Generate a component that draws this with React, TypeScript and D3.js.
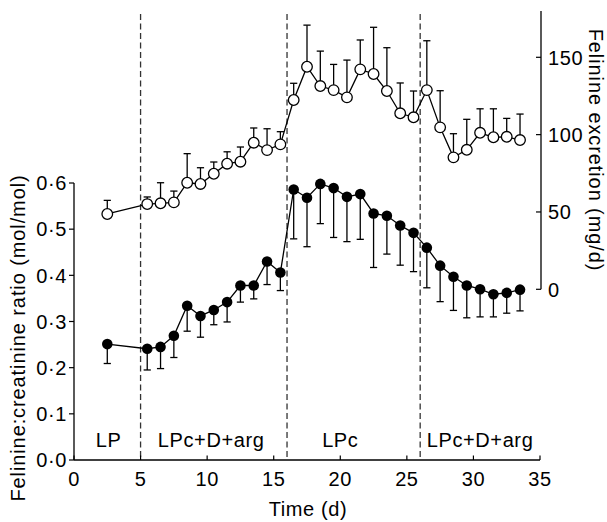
import * as d3 from "d3";

// days on which samples were taken
const days = [
  2.5, 5.5, 6.5, 7.5, 8.5, 9.5, 10.5, 11.5, 12.5, 13.5, 14.5, 15.5, 16.5, 17.5, 18.5,
  19.5, 20.5, 21.5, 22.5, 23.5, 24.5, 25.5, 26.5, 27.5, 28.5, 29.5, 30.5, 31.5, 32.5, 33.5,
];

// felinine excretion (mg/d), open circles, right axis
const excretion = [
  48.7, 55.1, 55.6, 56.2, 68.9, 68.1, 74.7, 81.2, 82.5, 94.8, 90.0, 93.7, 122.4, 143.9, 131.4,
  128.8, 124.1, 142.2, 139.2, 128.2, 113.8, 111.2, 128.8, 104.7, 85.3, 90.2, 101.2, 98.3, 98.6, 96.5,
];
const excretionUpper = [
  57.5, 59.7, 68.9, 63.5, 87.7, 78.6, 82.3, 88.9, 92.0, 104.3, 103.8, 101.9, 133.2, 170.8, 154.0,
  145.4, 148.2, 161.2, 169.4, 156.2, 133.4, 128.2, 160.7, 128.4, 100.6, 109.9, 116.7, 116.7, 110.5, 113.3,
];

// felinine:creatinine ratio (mol/mol), filled circles, left axis
const ratio = [
  0.251, 0.241, 0.245, 0.269, 0.334, 0.312, 0.325, 0.342, 0.378, 0.378, 0.43, 0.406, 0.586, 0.568, 0.598,
  0.589, 0.57, 0.576, 0.534, 0.529, 0.508, 0.492, 0.46, 0.421, 0.397, 0.378, 0.37, 0.359, 0.362, 0.369,
];
const ratioLower = [
  0.209, 0.195, 0.198, 0.222, 0.279, 0.266, 0.293, 0.299, 0.342, 0.349, 0.38, 0.367, 0.479, 0.462, 0.512,
  0.482, 0.473, 0.478, 0.417, 0.446, 0.422, 0.408, 0.373, 0.343, 0.324, 0.308, 0.31, 0.31, 0.318, 0.323,
];

// diet changes and phase labels
const dietChanges = [5, 16, 26];
const phaseLabels = ["LP", "LPc+D+arg", "LPc", "LPc+D+arg"];
const phaseCentres = [2.6, 10.3, 20, 30.5];

const xTicks = [0, 5, 10, 15, 20, 25, 30, 35];
const leftTicks = [0, 0.1, 0.2, 0.3, 0.4, 0.5, 0.6];
const rightTicks = [0, 50, 100, 150];

const W = 607;
const H = 522;
const FONT = "'Liberation Sans', Arial, sans-serif";
const FS = 20;
const LS = 0.6;

const fmtRatio = (v: number) => v.toFixed(1).replace(".", "\u00b7");

export default function App() {
  const x = d3.scaleLinear().domain([0, 35]).range([74, 540]);
  const yL = d3.scaleLinear().domain([0, 0.6]).range([460, 183]);
  const yR = d3.scaleLinear().domain([0, 180]).range([289.3, 10.9]);

  const lineR = d3
    .line<number>()
    .x((_, i) => x(days[i]))
    .y((d) => yR(d));
  const lineL = d3
    .line<number>()
    .x((_, i) => x(days[i]))
    .y((d) => yL(d));

  const r = 5.3;
  const cap = 3.6;
  const txt = { fontFamily: FONT, fontSize: FS, letterSpacing: LS, fill: "#000" } as const;
  const title = { ...txt, letterSpacing: 0.9 };

  return (
    <div style={{ position: "absolute", left: 0, top: 0 }}>
      <svg width={W} height={H} style={{ display: "block", background: "#fff" }}>
        {/* dashed diet change lines */}
        {dietChanges.map((d) => (
          <line
            key={d}
            x1={x(d)}
            x2={x(d)}
            y1={14}
            y2={yL(0)}
            stroke="#333"
            strokeWidth={1.3}
            strokeDasharray="6,3.5"
          />
        ))}

        {/* x axis */}
        <line x1={x(0)} x2={x(35)} y1={yL(0)} y2={yL(0)} stroke="#000" strokeWidth={1.3} />
        {xTicks.map((t) => (
          <g key={t}>
            <line x1={x(t)} x2={x(t)} y1={yL(0)} y2={yL(0) - 4.5} stroke="#000" strokeWidth={1.2} />
            <text x={x(t)} y={486} textAnchor="middle" {...txt}>
              {t}
            </text>
          </g>
        ))}
        <text x={308} y={516} textAnchor="middle" {...txt}>
          Time (d)
        </text>

        {/* left axis */}
        <line x1={x(0)} x2={x(0)} y1={yL(0)} y2={yL(0.6)} stroke="#000" strokeWidth={1.3} />
        {leftTicks.map((t) => (
          <g key={t}>
            <line x1={x(0) - 5} x2={x(0)} y1={yL(t)} y2={yL(t)} stroke="#000" strokeWidth={1.2} />
            <text x={67} y={yL(t)} dy="0.36em" textAnchor="end" {...txt}>
              {fmtRatio(t)}
            </text>
          </g>
        ))}
        <text
          transform={`translate(18,338) rotate(-90)`}
          textAnchor="middle"
          dominantBaseline="central"
          {...title}
        >
          Felinine:creatinine ratio (mol/mol)
        </text>

        {/* right axis */}
        <line x1={541} x2={541} y1={yR(0)} y2={yR(180)} stroke="#000" strokeWidth={1.3} />
        {rightTicks.map((t) => (
          <g key={t}>
            <line x1={536} x2={541} y1={yR(t)} y2={yR(t)} stroke="#000" strokeWidth={1.2} />
            <text x={548} y={yR(t)} dy="0.36em" textAnchor="start" {...txt}>
              {t}
            </text>
          </g>
        ))}
        <text
          transform={`translate(596,150) rotate(90)`}
          textAnchor="middle"
          dominantBaseline="central"
          {...title}
        >
          Felinine excretion (mg/d)
        </text>

        {/* phase labels */}
        {phaseLabels.map((l, i) => (
          <text key={i} x={x(phaseCentres[i])} y={447} textAnchor="middle" {...txt}>
            {l}
          </text>
        ))}

        {/* excretion series */}
        <path d={lineR(excretion) ?? ""} fill="none" stroke="#000" strokeWidth={1.3} />
        {excretion.map((v, i) => (
          <g key={`e${i}`} stroke="#000" strokeWidth={1.3}>
            <line x1={x(days[i])} x2={x(days[i])} y1={yR(v)} y2={yR(excretionUpper[i])} />
            <line
              x1={x(days[i]) - cap}
              x2={x(days[i]) + cap}
              y1={yR(excretionUpper[i])}
              y2={yR(excretionUpper[i])}
            />
          </g>
        ))}
        {excretion.map((v, i) => (
          <circle key={`ec${i}`} cx={x(days[i])} cy={yR(v)} r={r} fill="#fff" stroke="#000" strokeWidth={1.3} />
        ))}

        {/* ratio series */}
        <path d={lineL(ratio) ?? ""} fill="none" stroke="#000" strokeWidth={1.3} />
        {ratio.map((v, i) => (
          <g key={`r${i}`} stroke="#000" strokeWidth={1.3}>
            <line x1={x(days[i])} x2={x(days[i])} y1={yL(v)} y2={yL(ratioLower[i])} />
            <line
              x1={x(days[i]) - cap}
              x2={x(days[i]) + cap}
              y1={yL(ratioLower[i])}
              y2={yL(ratioLower[i])}
            />
          </g>
        ))}
        {ratio.map((v, i) => (
          <circle key={`rc${i}`} cx={x(days[i])} cy={yL(v)} r={r} fill="#000" />
        ))}
      </svg>
    </div>
  );
}
